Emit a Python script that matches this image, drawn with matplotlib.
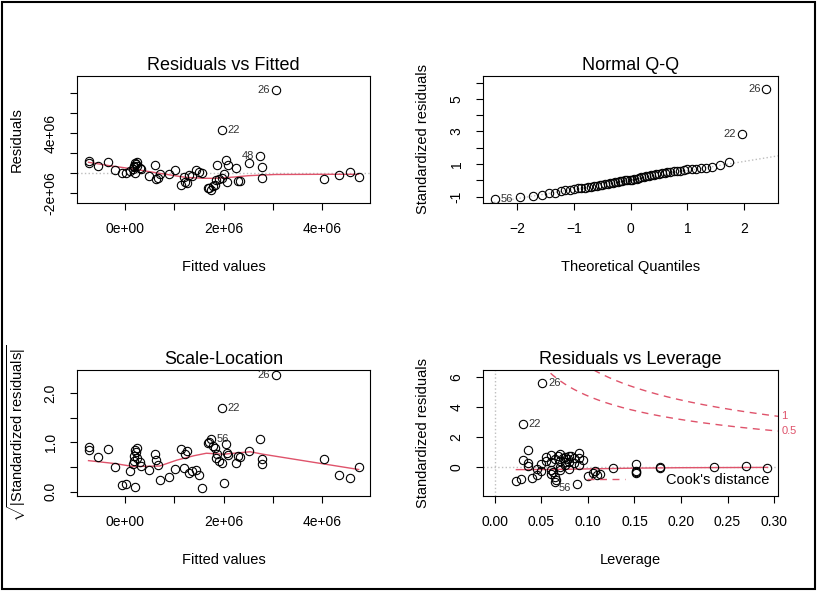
import numpy as np
import matplotlib.pyplot as plt
from matplotlib.patches import Rectangle
from matplotlib.lines import Line2D
from statistics import NormalDist

plt.rcParams['font.family'] = ['Liberation Sans', 'DejaVu Sans']
plt.rcParams['mathtext.fontset'] = 'custom'
plt.rcParams['mathtext.rm'] = 'Liberation Sans'
plt.rcParams['mathtext.it'] = 'Liberation Sans:italic'

# --- model diagnostics ---
fitted = np.array([1.74, 1.70, 1.68, 1.79, 1.83, 1.13, 1.26, 2.07, 1.22, 2.30,
                   2.33, 1.84, 4.04, 0.63, 1.90, 1.96, 2.77, 0.67, 4.74, 1.20,
                   0.49, 1.35, 1.30, 4.35, 0.90, 0.70, 2.00, 0.20, 0.03, -0.07,
                   4.56, 1.50, 1.56, 0.10, 1.45, 1.01, -0.20, 0.33, 0.17, 2.25,
                   0.30, 0.18, 2.77, 0.25, -0.54, 0.19, 2.09, 1.86, 0.60, 0.22,
                   2.52, 0.20, -0.74, -0.34, 0.24, -0.74, 2.05, 2.74, 1.96, 3.06]) * 1e6
std_resid = np.array([-1.15, -1.02, -0.97, -0.87, -0.80, -0.75, -0.67, -0.62, -0.57, -0.53,
                      -0.50, -0.47, -0.44, -0.41, -0.38, -0.35, -0.32, -0.29, -0.26, -0.23,
                      -0.20, -0.17, -0.14, -0.12, -0.09, -0.06, -0.03, 0.008, 0.026, 0.02,
                      0.08, 0.11, 0.006, 0.17, 0.20, 0.22, 0.25, 0.28, 0.31, 0.34,
                      0.37, 0.40, 0.43, 0.46, 0.49, 0.52, 0.55, 0.58, 0.60, 0.64,
                      0.68, 0.70, 0.72, 0.74, 0.78, 0.84, 0.94, 1.14, 2.86, 5.60])
leverage = np.array([0.088, 0.065, 0.023, 0.066, 0.028, 0.040, 0.065, 0.100, 0.045, 0.110,
                     0.113, 0.060, 0.152, 0.105, 0.152, 0.062, 0.108, 0.050, 0.152, 0.070,
                     0.060, 0.080, 0.045, 0.127, 0.293, 0.177, 0.177, 0.235, 0.270, 0.035,
                     0.075, 0.090, 0.070, 0.152, 0.050, 0.035, 0.085, 0.060, 0.075, 0.080,
                     0.055, 0.070, 0.095, 0.030, 0.065, 0.078, 0.085, 0.073, 0.090, 0.055,
                     0.075, 0.080, 0.068, 0.082, 0.060, 0.070, 0.090, 0.035, 0.030, 0.051])
obs_labels = {0: '56', 57: '48', 58: '22', 59: '26'}
sigma = 1.53e6
n_params = 5

# smoothed (lowess) curves as drawn
rf_smooth_x = np.array([-0.74, -0.3, 0.17, 0.7, 1.22, 1.6, 1.83, 2.2, 2.5, 3.04, 4.0, 4.74]) * 1e6
rf_smooth_y = np.array([1.10, 0.75, 0.43, 0.0, -0.40, -0.50, -0.50, -0.38, -0.24, -0.12, -0.10, -0.10]) * 1e6
sl_smooth_x = np.array([-0.74, -0.2, 0.17, 0.7, 1.05, 1.4, 1.65, 1.99, 2.54, 2.8, 3.8, 4.74]) * 1e6
sl_smooth_y = np.array([0.63, 0.57, 0.51, 0.52, 0.64, 0.73, 0.78, 0.76, 0.81, 0.76, 0.60, 0.45])
lev_smooth_x = np.array([0.023, 0.06, 0.10, 0.15, 0.20, 0.25, 0.293])
lev_smooth_y = np.array([-0.20, -0.19, -0.15, -0.10, -0.07, -0.06, -0.05])
qq_intercept, qq_slope = 0.02, 0.57

resid = std_resid * sigma * np.sqrt(1 - leverage)
n = len(std_resid)

RED = '#DF536B'
GRAY = '#BEBEBE'
TXT = '#333333'

fig = plt.figure(figsize=(8.17, 5.91), dpi=100)
W, H = 817, 591


def box(l, t, r, b):
    return [l / W, 1 - b / H, (r - l) / W, (b - t) / H]


ax1 = fig.add_axes(box(77, 76, 370, 203))
ax2 = fig.add_axes(box(483, 76, 778, 203))
ax3 = fig.add_axes(box(77, 370, 370, 496))
ax4 = fig.add_axes(box(483, 370, 778, 496))


def style(ax, title, xlabel, ylabel, hgt):
    for s in ax.spines.values():
        s.set_linewidth(0.8)
    ax.tick_params(direction='out', length=5, width=0.8, labelsize=10, pad=9)
    ax.tick_params(axis='y', labelrotation=90, pad=9)
    for lab in ax.get_yticklabels():
        lab.set_va('center')
    ax.set_title(title, fontsize=13, pad=4)
    ax.set_xlabel(xlabel, fontsize=10.5)
    ax.set_ylabel(ylabel, fontsize=10.5)
    ax.xaxis.set_label_coords(0.5, -64 / hgt)
    ax.xaxis.label.set_va('center')
    ax.yaxis.set_label_coords(-60 / 293, 0.5)
    ax.yaxis.label.set_va('center')


def pts(ax, x, y):
    ax.plot(x, y, 'o', mfc='none', mec='black', ms=6, mew=0.8, zorder=3)


def tag(ax, x, y, s, side):
    off = -4 if side == 'left' else 4
    ax.annotate(s, (x, y), xytext=(off, 0), textcoords='offset points',
                ha='right' if side == 'left' else 'left', va='center',
                fontsize=8, color=TXT)


# Residuals vs Fitted
ax1.axhline(0, color=GRAY, ls=':', lw=1)
pts(ax1, fitted, resid)
ax1.plot(rf_smooth_x, rf_smooth_y, color=RED, lw=1)
ax1.set_xlim(-0.974e6, 4.97e6)
ax1.set_ylim(-2.97e6, 9.73e6)
ax1.set_xticks(np.arange(0, 5) * 1e6)
ax1.set_xticklabels(['0e+00', '', '2e+06', '', '4e+06'])
ax1.set_yticks(np.arange(-2, 9, 2) * 1e6)
ax1.set_yticklabels(['-2e+06', '', '', '4e+06', '', ''])
style(ax1, 'Residuals vs Fitted', 'Fitted values', 'Residuals', 127)
for i in (59, 58, 57):
    tag(ax1, fitted[i], resid[i], obs_labels[i], 'left' if fitted[i] > 2.0e6 else 'right')

# Normal Q-Q
order = np.argsort(std_resid)
theo = np.array([NormalDist().inv_cdf((k + 0.5) / n) for k in range(n)])
ax2.axline((0, qq_intercept), slope=qq_slope, color=GRAY, ls=':', lw=1)
pts(ax2, theo, std_resid[order])
ax2.set_xlim(-2.605, 2.598)
ax2.set_ylim(-1.39, 6.40)
ax2.set_xticks([-2, -1, 0, 1, 2])
ax2.set_yticks(np.arange(-1, 7))
ax2.set_yticklabels(['-1', '', '1', '', '3', '', '5', ''])
style(ax2, 'Normal Q-Q', 'Theoretical Quantiles', 'Standardized residuals', 127)
rank = {idx: k for k, idx in enumerate(order)}
for i in (59, 58, 0):
    tag(ax2, theo[rank[i]], std_resid[i], obs_labels[i], 'left' if theo[rank[i]] > 0 else 'right')

# Scale-Location
sqrt_abs = np.sqrt(np.abs(std_resid))
pts(ax3, fitted, sqrt_abs)
ax3.plot(sl_smooth_x, sl_smooth_y, color=RED, lw=1)
ax3.set_xlim(-0.974e6, 4.97e6)
ax3.set_ylim(-0.088, 2.47)
ax3.set_xticks(np.arange(0, 5) * 1e6)
ax3.set_xticklabels(['0e+00', '', '2e+06', '', '4e+06'])
ax3.set_yticks([0, 0.5, 1.0, 1.5, 2.0])
ax3.set_yticklabels(['0.0', '', '1.0', '', '2.0'])
style(ax3, 'Scale-Location', 'Fitted values',
      r'$\sqrt{|\mathrm{Standardized\ residuals}|}$', 126)
for i in (59, 58, 0):
    tag(ax3, fitted[i], sqrt_abs[i], obs_labels[i], 'left' if fitted[i] > 2.0e6 else 'right')

# Residuals vs Leverage
ax4.axhline(0, color=GRAY, ls=':', lw=1)
ax4.axvline(0, color=GRAY, ls=':', lw=1)
pts(ax4, leverage, std_resid)
ax4.plot(lev_smooth_x, lev_smooth_y, color=RED, lw=1)
hh = np.linspace(0.005, 0.3043, 300)
for crit, lab in ((0.5, '0.5'), (1.0, '1')):
    cl = np.sqrt(crit * n_params * (1 - hh) / hh)
    ax4.plot(hh, cl, color=RED, ls=(0, (5, 4)), lw=1)
    ax4.plot(hh, -cl, color=RED, ls=(0, (5, 4)), lw=1)
    ax4.text(1.012, cl[-1], lab, transform=ax4.get_yaxis_transform(),
             color=RED, fontsize=8, va='center', ha='left', clip_on=False)
ax4.set_xlim(-0.0129, 0.3043)
ax4.set_ylim(-1.97, 6.49)
ax4.set_xticks(np.arange(0, 0.31, 0.05))
ax4.set_xticklabels(['0.00', '0.05', '0.10', '0.15', '0.20', '0.25', '0.30'])
ax4.set_yticks([0, 2, 4, 6])
style(ax4, 'Residuals vs Leverage', 'Leverage', 'Standardized residuals', 126)
for i in (59, 58):
    tag(ax4, leverage[i], std_resid[i], obs_labels[i], 'right')
tag(ax4, leverage[0], std_resid[0] - 0.3, obs_labels[0], 'left')
ax4.legend([Line2D([], [], color=RED, ls=(0, (5, 4)), lw=1)], ["Cook's distance"],
           loc='lower right', frameon=False, fontsize=10.5, handlelength=2.6,
           handletextpad=2.8, borderaxespad=0.2)

fig.patches.append(Rectangle((0.003, 0.004), 0.994, 0.992, transform=fig.transFigure,
                             fill=False, lw=1.5, ec='black'))

fig.savefig('out.png', dpi=100)
